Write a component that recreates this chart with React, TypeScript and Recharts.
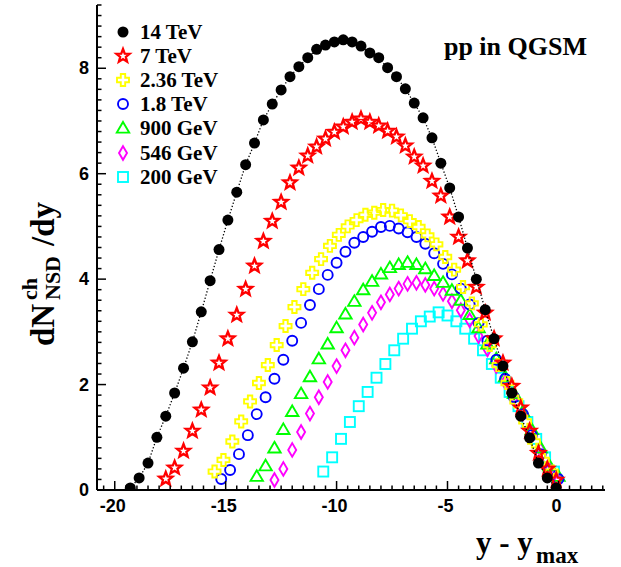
import { ScatterChart, Scatter, XAxis, YAxis, Legend } from "recharts";

// y - y_max bin centres and dN/dy values, one pair of arrays per energy
const x14 = [-19.3, -18.9, -18.5, -18.1, -17.7, -17.3, -16.9, -16.5, -16.1, -15.7, -15.3, -14.9, -14.5, -14.1, -13.7, -13.3, -12.9, -12.5, -12.1, -11.7, -11.3, -10.9, -10.5, -10.1, -9.7, -9.3, -8.9, -8.5, -8.1, -7.7, -7.3, -6.9, -6.5, -6.1, -5.7, -5.3, -4.9, -4.5, -4.1, -3.7, -3.3, -2.9, -2.5, -2.1, -1.7, -1.3, -0.9, -0.5, -0.1];
const y14 = [0.04, 0.23, 0.51, 1.0, 1.4, 1.84, 2.31, 2.81, 3.38, 3.97, 4.56, 5.12, 5.65, 6.17, 6.58, 7.02, 7.32, 7.59, 7.84, 8.03, 8.2, 8.36, 8.44, 8.5, 8.54, 8.5, 8.42, 8.29, 8.2, 8.01, 7.84, 7.61, 7.34, 7.06, 6.68, 6.2, 5.73, 5.18, 4.59, 4.0, 3.42, 2.87, 2.35, 1.84, 1.4, 0.99, 0.51, 0.23, 0.04];

const x7 = [-17.7, -17.3, -16.9, -16.5, -16.1, -15.7, -15.3, -14.9, -14.5, -14.1, -13.7, -13.3, -12.9, -12.5, -12.1, -11.7, -11.3, -10.9, -10.5, -10.1, -9.7, -9.3, -8.9, -8.5, -8.1, -7.7, -7.3, -6.9, -6.5, -6.1, -5.7, -5.3, -4.9, -4.5, -4.1, -3.7, -3.3, -2.9, -2.5, -2.1, -1.7, -1.3, -0.9, -0.5, -0.1];
const y7 = [0.21, 0.42, 0.74, 1.12, 1.52, 1.94, 2.41, 2.87, 3.32, 3.81, 4.25, 4.72, 5.1, 5.46, 5.83, 6.11, 6.34, 6.51, 6.66, 6.79, 6.89, 6.98, 7.04, 6.98, 6.91, 6.81, 6.7, 6.53, 6.32, 6.15, 5.86, 5.58, 5.18, 4.8, 4.35, 3.85, 3.36, 2.87, 2.41, 1.97, 1.56, 1.12, 0.7, 0.4, 0.19];

const x236 = [-15.5, -15.1, -14.7, -14.3, -13.9, -13.5, -13.1, -12.7, -12.3, -11.9, -11.5, -11.1, -10.7, -10.3, -9.9, -9.5, -9.1, -8.7, -8.3, -7.9, -7.5, -7.1, -6.7, -6.3, -5.9, -5.5, -5.1, -4.7, -4.3, -3.9, -3.5, -3.1, -2.7, -2.3, -1.9, -1.5, -1.1, -0.7, -0.3];
const y236 = [0.35, 0.57, 0.92, 1.3, 1.68, 2.03, 2.37, 2.75, 3.11, 3.47, 3.81, 4.12, 4.38, 4.63, 4.84, 5.0, 5.12, 5.22, 5.26, 5.31, 5.3, 5.21, 5.1, 4.99, 4.83, 4.66, 4.42, 4.18, 3.85, 3.54, 3.14, 2.75, 2.37, 2.03, 1.68, 1.3, 0.92, 0.57, 0.35];

const x18 = [-15.2, -14.8, -14.4, -14.0, -13.6, -13.2, -12.8, -12.4, -12.0, -11.6, -11.2, -10.8, -10.4, -10.0, -9.6, -9.2, -8.8, -8.4, -8.0, -7.6, -7.2, -6.8, -6.4, -6.0, -5.6, -5.2, -4.8, -4.4, -4.0, -3.6, -3.2, -2.8, -2.4, -2.0, -1.6, -1.2, -0.8, -0.4, 0.0];
const y18 = [0.21, 0.38, 0.68, 1.04, 1.44, 1.76, 2.11, 2.47, 2.83, 3.17, 3.51, 3.81, 4.08, 4.31, 4.52, 4.69, 4.8, 4.9, 4.99, 5.01, 4.96, 4.89, 4.8, 4.67, 4.49, 4.29, 4.09, 3.82, 3.52, 3.17, 2.83, 2.47, 2.11, 1.76, 1.44, 1.04, 0.68, 0.38, 0.21];

const x900 = [-13.6, -13.2, -12.8, -12.4, -12.0, -11.6, -11.2, -10.8, -10.4, -10.0, -9.6, -9.2, -8.8, -8.4, -8.0, -7.6, -7.2, -6.8, -6.4, -6.0, -5.6, -5.2, -4.8, -4.4, -4.0, -3.6, -3.2, -2.8, -2.4, -2.0, -1.6, -1.2, -0.8, -0.4, 0.0];
const y900 = [0.26, 0.46, 0.8, 1.15, 1.49, 1.83, 2.15, 2.49, 2.77, 3.08, 3.34, 3.58, 3.8, 3.96, 4.1, 4.22, 4.28, 4.32, 4.28, 4.2, 4.07, 3.94, 3.79, 3.6, 3.33, 3.08, 2.77, 2.49, 2.15, 1.83, 1.49, 1.15, 0.8, 0.46, 0.26];

const x546 = [-12.8, -12.4, -12.0, -11.6, -11.2, -10.8, -10.4, -10.0, -9.6, -9.2, -8.8, -8.4, -8.0, -7.6, -7.2, -6.8, -6.4, -6.0, -5.6, -5.2, -4.8, -4.4, -4.0, -3.6, -3.2, -2.8, -2.4, -2.0, -1.6, -1.2, -0.8, -0.4, 0.0];
const y546 = [0.19, 0.4, 0.76, 1.1, 1.45, 1.76, 2.05, 2.35, 2.65, 2.89, 3.14, 3.36, 3.56, 3.71, 3.82, 3.91, 3.93, 3.89, 3.82, 3.72, 3.58, 3.41, 3.22, 2.92, 2.67, 2.35, 2.05, 1.76, 1.45, 1.1, 0.76, 0.4, 0.19];

const x200 = [-10.6, -10.2, -9.8, -9.4, -9.0, -8.6, -8.2, -7.8, -7.4, -7.0, -6.6, -6.2, -5.8, -5.4, -5.0, -4.6, -4.2, -3.8, -3.4, -3.0, -2.6, -2.2, -1.8, -1.4, -1.0, -0.6, -0.2];
const y200 = [0.35, 0.62, 0.97, 1.29, 1.59, 1.86, 2.13, 2.39, 2.65, 2.87, 3.06, 3.2, 3.29, 3.37, 3.31, 3.2, 3.06, 2.87, 2.65, 2.39, 2.13, 1.86, 1.59, 1.29, 0.97, 0.62, 0.35];

const xMajorLabels = [-20, -15, -10, -5, 0];
const yMajorLabels = [0, 2, 4, 6, 8];

type Kind = "dot" | "star" | "cross" | "ring" | "triangle" | "diamond" | "square";

const series: { name: string; xs: number[]; ys: number[]; kind: Kind; color: string }[] = [
  { name: "14 TeV", xs: x14, ys: y14, kind: "dot", color: "#000000" },
  { name: "7 TeV", xs: x7, ys: y7, kind: "star", color: "#ff0000" },
  { name: "2.36 TeV", xs: x236, ys: y236, kind: "cross", color: "#ffff00" },
  { name: "1.8 TeV", xs: x18, ys: y18, kind: "ring", color: "#0000ff" },
  { name: "900 GeV", xs: x900, ys: y900, kind: "triangle", color: "#00ff00" },
  { name: "546 GeV", xs: x546, ys: y546, kind: "diamond", color: "#ff00ff" },
  { name: "200 GeV", xs: x200, ys: y200, kind: "square", color: "#00ffff" },
];

const SERIF = "'Liberation Serif', 'DejaVu Serif', serif";
const SANS = "'Liberation Sans', Arial, sans-serif";

function marker(kind: Kind, cx: number, cy: number, color: string) {
  const sw = 1.9;
  if (kind === "dot") return <circle cx={cx} cy={cy} r={5.5} fill={color} />;
  if (kind === "ring") return <circle cx={cx} cy={cy} r={5} fill="none" stroke={color} strokeWidth={sw} />;
  if (kind === "square")
    return <rect x={cx - 5} y={cy - 5} width={10} height={10} fill="none" stroke={color} strokeWidth={sw} />;
  let pts: number[][] = [];
  if (kind === "star") {
    for (let i = 0; i < 10; i++) {
      const r = i % 2 === 0 ? 7 : 3;
      const a = -Math.PI / 2 + (i * Math.PI) / 5;
      pts.push([r * Math.cos(a), r * Math.sin(a)]);
    }
  } else if (kind === "cross") {
    const a = 2.2, l = 6;
    pts = [[-a, -l], [a, -l], [a, -a], [l, -a], [l, a], [a, a], [a, l], [-a, l], [-a, a], [-l, a], [-l, -a], [-a, -a]];
  } else if (kind === "triangle") {
    pts = [[0, -6], [6.2, 4.6], [-6.2, 4.6]];
  } else if (kind === "diamond") {
    pts = [[0, -6.8], [4, 0], [0, 6.8], [-4, 0]];
  }
  const d = pts.map((p) => `${(cx + p[0]).toFixed(2)},${(cy + p[1]).toFixed(2)}`).join(" ");
  return (
    <polygon
      points={d}
      fill="none"
      stroke={color}
      strokeWidth={kind === "star" ? 2.3 : sw}
      strokeLinejoin="miter"
    />
  );
}

const isMajor = (v: number, step: number) => Math.abs(v / step - Math.round(v / step)) < 1e-6;

const xTicks = Array.from({ length: 46 }, (_, i) => Math.round((-20.5 + i * 0.5) * 10) / 10);
const yTicks = Array.from({ length: 47 }, (_, i) => Math.round(i * 0.2 * 10) / 10);

function BottomTick({ x, y, payload }: any) {
  const major = isMajor(payload.value, 5);
  return (
    <g>
      <line x1={x} x2={x} y1={y} y2={y - (major ? 9 : 4.5)} stroke="#000" strokeWidth={1.5} />
      {major && xMajorLabels.includes(payload.value) && (
        <text x={x - 2} y={y + 22} textAnchor="middle" fontFamily={SANS} fontWeight="bold" fontSize={18} fill="#000">
          {payload.value}
        </text>
      )}
    </g>
  );
}

function TopTick({ x, y, payload }: any) {
  const major = isMajor(payload.value, 5);
  return <line x1={x} x2={x} y1={y} y2={y + (major ? 9 : 4.5)} stroke="#000" strokeWidth={1.5} />;
}

function LeftTick({ x, y, payload }: any) {
  const major = isMajor(payload.value, 2);
  return (
    <g>
      <line x1={x} x2={x + (major ? 9 : 4.5)} y1={y} y2={y} stroke="#000" strokeWidth={1.5} />
      {major && yMajorLabels.includes(payload.value) && (
        <text x={x - 8} y={y + 6} textAnchor="end" fontFamily={SANS} fontWeight="bold" fontSize={18} fill="#000">
          {payload.value}
        </text>
      )}
    </g>
  );
}

function RightTick({ x, y, payload }: any) {
  const major = isMajor(payload.value, 2);
  return <line x1={x} x2={x - (major ? 9 : 4.5)} y1={y} y2={y} stroke="#000" strokeWidth={1.5} />;
}

function LegendBox() {
  return (
    <div style={{ display: "flex", flexDirection: "column" }}>
      {series.map((s) => (
        <div key={s.name} style={{ display: "flex", alignItems: "center", height: 24.1 }}>
          <svg width={22} height={22} style={{ display: "block" }}>
            {marker(s.kind, 11, 11, s.color)}
          </svg>
          <span
            style={{ marginLeft: 6, fontFamily: SERIF, fontWeight: "bold", fontSize: 21, color: "#000", lineHeight: "24px" }}
          >
            {s.name}
          </span>
        </div>
      ))}
    </div>
  );
}

const axisLine = { stroke: "#000", strokeWidth: 2 };
const domX: [number, number] = [-20.8, 2.1];
const domY: [number, number] = [0, 9.2];

export default function App() {
  const drawOrder = [...series].reverse();
  return (
    <div style={{ position: "absolute", left: 0, top: 0, width: 621, height: 567, background: "#fff" }}>
      <ScatterChart width={621} height={567} margin={{ top: 5, right: 16, bottom: 0, left: 0 }}>
        <XAxis
          xAxisId="b"
          type="number"
          dataKey="x"
          orientation="bottom"
          domain={domX}
          allowDataOverflow
          ticks={xTicks}
          interval={0}
          height={77}
          tickSize={0}
          tickMargin={0}
          tickLine={false}
          axisLine={axisLine}
          tick={BottomTick}
        />
        <XAxis
          xAxisId="t"
          type="number"
          orientation="top"
          domain={domX}
          allowDataOverflow
          ticks={xTicks}
          interval={0}
          height={0}
          tickSize={0}
          tickMargin={0}
          tickLine={false}
          axisLine={axisLine}
          tick={TopTick}
        />
        <YAxis
          yAxisId="l"
          type="number"
          dataKey="y"
          orientation="left"
          domain={domY}
          allowDataOverflow
          ticks={yTicks}
          interval={0}
          width={97}
          tickSize={0}
          tickMargin={0}
          tickLine={false}
          axisLine={axisLine}
          tick={LeftTick}
        />
        <YAxis
          yAxisId="r"
          type="number"
          orientation="right"
          domain={domY}
          allowDataOverflow
          ticks={yTicks}
          interval={0}
          width={0}
          tickSize={0}
          tickMargin={0}
          tickLine={false}
          axisLine={axisLine}
          tick={RightTick}
        />
        <Legend
          layout="vertical"
          align="center"
          verticalAlign="middle"
          wrapperStyle={{ left: 112, top: 20, width: 170 }}
          content={() => <LegendBox />}
        />
        {drawOrder.map((s) => (
          <Scatter
            key={s.name}
            name={s.name}
            xAxisId="b"
            yAxisId="l"
            data={s.xs.map((x, i) => ({ x, y: s.ys[i] }))}
            isAnimationActive={false}
            line={s.kind === "dot" ? { stroke: "#000", strokeWidth: 1.3, strokeDasharray: "1.3 2" } : false}
            shape={(p: any) => marker(s.kind, p.cx, p.cy, s.color)}
          />
        ))}
        <text x={587} y={55} textAnchor="end" fontFamily={SERIF} fontWeight="bold" fontSize={26} fill="#000">
          pp in QGSM
        </text>
        <g transform="translate(54, 270) rotate(-90)" fontFamily={SERIF} fontWeight="bold" fill="#000">
          <text x={-76} y={0} fontSize={33}>dN</text>
          <text x={-30} y={-17} fontSize={22}>ch</text>
          <text x={-30} y={6} fontSize={22}>NSD</text>
          <text x={24} y={0} fontSize={33}>/dy</text>
        </g>
        <g fontFamily={SERIF} fontWeight="bold" fill="#000">
          <text x={476} y={553} fontSize={31}>y - y</text>
          <text x={536} y={563} fontSize={23}>max</text>
        </g>
      </ScatterChart>
    </div>
  );
}
